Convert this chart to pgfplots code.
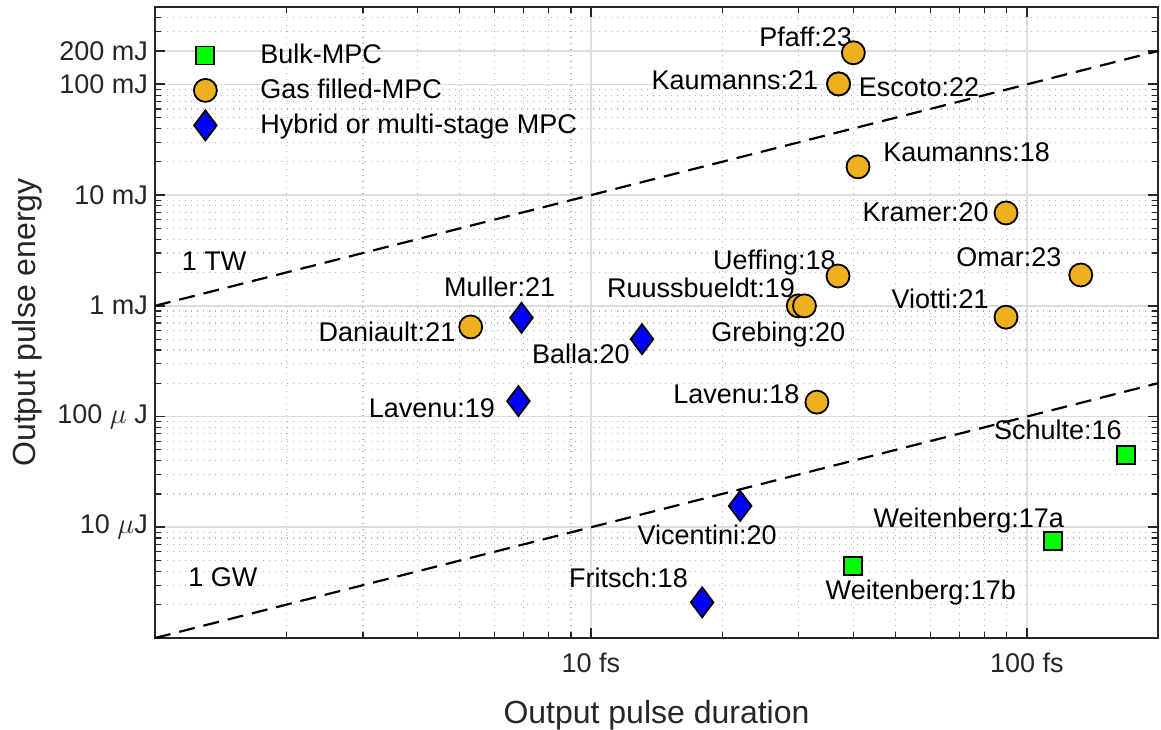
\documentclass[border=0pt]{standalone}
\usepackage{pgfplots}
\pgfplotsset{compat=1.18}
\usepackage{fontspec}
\setmainfont{Liberation Sans}

\definecolor{axcol}{HTML}{262626}
\definecolor{gasorange}{rgb}{0.929,0.694,0.125}
\definecolor{bulkgreen}{rgb}{0,1,0}
\definecolor{majgrid}{HTML}{DCDCDC}
\definecolor{mingrid}{HTML}{B4B4B4}

\begin{document}
\begin{tikzpicture}[
  lbl/.style={font=\fontsize{13.5}{16}\selectfont, inner sep=0pt, text=black},
]
\useasboundingbox (-77.5pt,-45.5pt) rectangle (503pt,319pt);
\begin{axis}[
  scale only axis, width=501.5pt, height=315.5pt,
  at={(0,0)}, anchor=south west,
  xmode=log, ymode=log,
  xmin=1, xmax=200, ymin=0.001, ymax=500,
  xtick={10,100}, xticklabels={10 fs,100 fs},
  minor xtick={2,3,4,5,6,7,8,9,20,30,40,50,60,70,80,90},
  ytick={0.01,0.1,1,10,100,200},
  yticklabels={10 $\mu$J,100 $\mu$ J,1 mJ,10 mJ,100 mJ,200 mJ},
  minor ytick={0.002,0.003,0.004,0.005,0.006,0.007,0.008,0.009,
               0.02,0.03,0.04,0.05,0.06,0.07,0.08,0.09,
               0.2,0.3,0.4,0.5,0.6,0.7,0.8,0.9,
               2,3,4,5,6,7,8,9,20,30,40,50,60,70,80,90,300,400},
  grid=both,
  major grid style={majgrid, line width=0.8pt, solid},
  minor grid style={mingrid, line width=0.6pt, dash pattern=on 0.6pt off 2.4pt},
  axis line style={axcol, line width=1pt},
  tick align=inside,
  major tick length=5pt, minor tick length=3pt,
  tick style={axcol, line width=0.9pt},
  minor tick style={line width=0.6pt},
  ticklabel style={font=\fontsize{13.5}{16}\selectfont, text=axcol},
  xticklabel style={yshift=-4pt},
  xlabel={Output pulse duration},
  ylabel={Output pulse energy},
  label style={font=\fontsize{16}{19}\selectfont, text=axcol},
  xlabel style={at={(axis description cs:0.5,0)}, anchor=center, yshift=-38.5pt},
  ylabel style={at={(axis description cs:0,0.5)}, anchor=center, yshift=64pt},
  legend cell align=left,
  legend image code/.code={
    \path[draw=none, fill=none] (0pt,-3pt) rectangle (37.5pt,7pt);
    \draw[overlay, mark repeat=2, mark phase=2, #1] plot coordinates {(0pt,0.5pt) (10pt,0.5pt) (20pt,0.5pt)};
  },
  legend style={at={(axis description cs:0,1)}, anchor=north west,
    xshift=15pt, yshift=-17.5pt, draw=none, fill=none, inner sep=0pt,
    row sep=4pt, font=\fontsize{13.5}{16}\selectfont,
    nodes={inner sep=0pt, text height=10pt, text depth=3pt}},
]

% power reference lines: E = P * t
\addplot[black, line width=1.1pt, dash pattern=on 8pt off 4.5pt, forget plot]
  coordinates {(1,1) (200,200)};
\addplot[black, line width=1.1pt, dash pattern=on 8pt off 4.5pt, forget plot]
  coordinates {(1,0.001) (200,0.2)};

% bulk multipass cells (duration in fs, energy in mJ)
\addplot[only marks, mark=square*, mark size=4.5pt, draw=black, fill=bulkgreen,
  line width=0.9pt]
  coordinates {(169,0.045) (115,0.0075) (40,0.0045)};
\addlegendentry{Bulk-MPC}

% gas filled multipass cells
\addplot[only marks, mark=*, mark size=5.75pt, draw=black, fill=gasorange,
  line width=0.9pt]
  coordinates {(40,193) (37,101) (37,101) (41,18) (89.6,6.9) (133,1.9)
               (89.6,0.79) (36.9,1.86) (29.9,1.0) (30.9,1.0) (33,0.135) (5.3,0.645)};
\addlegendentry{Gas filled-MPC}

% hybrid or multi-stage cells
\addplot[only marks, mark=diamond*, mark size=7.5pt, draw=black, fill=blue,
  line width=0.9pt]
  coordinates {(6.93,0.78) (13.1,0.50) (6.82,0.138) (22,0.0156) (18,0.0021)};
\addlegendentry{Hybrid or multi-stage MPC}

% reference line labels
\node[lbl, anchor=base west] at (axis cs:1.15,2.07) {1 TW};
\node[lbl, anchor=base west] at (axis cs:1.19,0.00289) {1 GW};

% point labels
\node[lbl, anchor=base east, xshift=-0.5pt, yshift=3pt]   at (axis cs:40,193) {Pfaff:23};
\node[lbl, anchor=base east, xshift=-10pt, yshift=-3pt]   at (axis cs:37,101) {Kaumanns:21};
\node[lbl, anchor=base west, xshift=10pt, yshift=-6.5pt]  at (axis cs:37,101) {Escoto:22};
\node[lbl, anchor=base west, xshift=12.5pt, yshift=2.5pt] at (axis cs:41,18) {Kaumanns:18};
\node[lbl, anchor=base east, xshift=-8.5pt, yshift=-4.5pt] at (axis cs:89.6,6.9) {Kramer:20};
\node[lbl, anchor=base east, xshift=-9.5pt, yshift=4pt]   at (axis cs:133,1.9) {Omar:23};
\node[lbl, anchor=base east, xshift=-8.5pt, yshift=4.5pt] at (axis cs:89.6,0.79) {Viotti:21};
\node[lbl, anchor=base east, xshift=-1pt, yshift=3.5pt]   at (axis cs:36.9,1.86) {Ueffing:18};
\node[lbl, anchor=base east, xshift=-1.5pt, yshift=4pt]   at (axis cs:29.9,1.0) {Ruussbueldt:19};
\node[lbl, anchor=base east, xshift=20.5pt, yshift=-18pt] at (axis cs:30.9,1.0) {Grebing:20};
\node[lbl, anchor=base east, xshift=-8.5pt, yshift=-0.5pt] at (axis cs:33,0.135) {Lavenu:18};
\node[lbl, anchor=base east, xshift=-7.5pt, yshift=-7.5pt] at (axis cs:5.3,0.645) {Daniault:21};
\node[lbl, anchor=base east, xshift=17pt, yshift=10.5pt]  at (axis cs:6.93,0.78) {Muller:21};
\node[lbl, anchor=base east, xshift=-6pt, yshift=-12pt]   at (axis cs:13.1,0.50) {Balla:20};
\node[lbl, anchor=base east, xshift=-11.5pt, yshift=-8pt] at (axis cs:6.82,0.138) {Lavenu:19};
\node[lbl, anchor=base east, xshift=18.5pt, yshift=-19.5pt] at (axis cs:22,0.0156) {Vicentini:20};
\node[lbl, anchor=base east, xshift=-7pt, yshift=7.5pt]   at (axis cs:18,0.0021) {Fritsch:18};
\node[lbl, anchor=base east, xshift=-2pt, yshift=7.5pt]   at (axis cs:169,0.045) {Schulte:16};
\node[lbl, anchor=base east, xshift=5.5pt, yshift=7pt]    at (axis cs:115,0.0075) {Weitenberg:17a};
\node[lbl, anchor=base west, xshift=-14pt, yshift=-17pt]  at (axis cs:40,0.0045) {Weitenberg:17b};
\end{axis}
\end{tikzpicture}
\end{document}
